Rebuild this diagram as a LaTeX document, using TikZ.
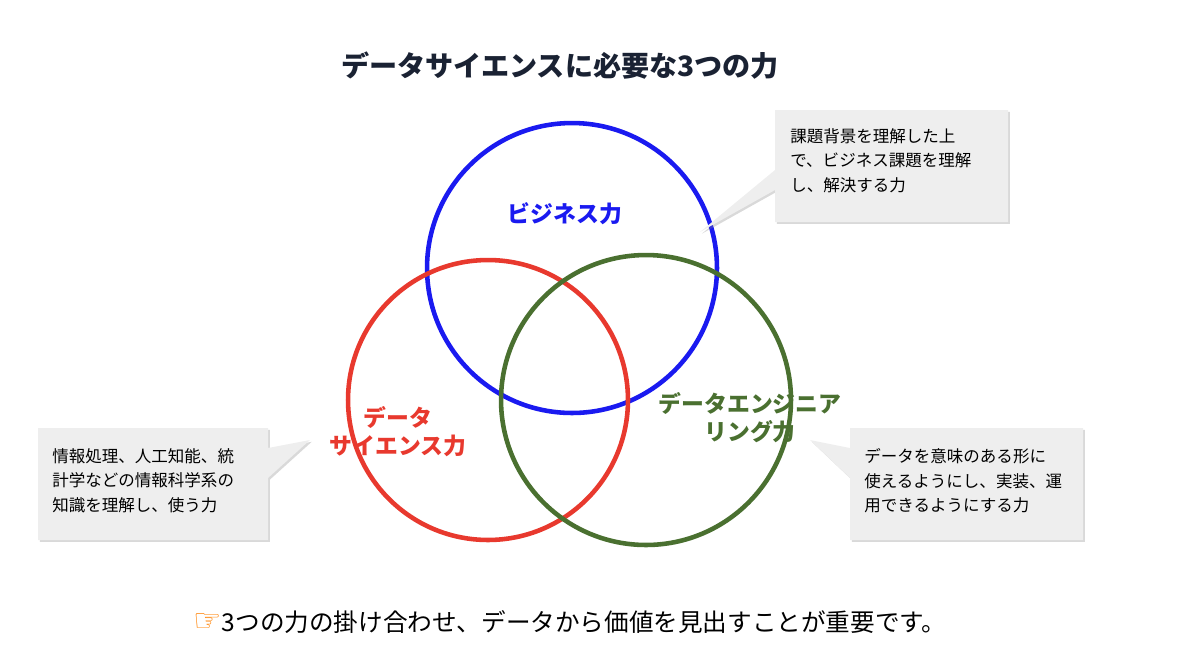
\documentclass[tikz,border=0pt]{standalone}
\usepackage{fontspec}
\setmainfont{Noto Sans CJK JP}
\newfontfamily\symfont{DejaVu Sans}
\usetikzlibrary{positioning,shadows}
\definecolor{navy}{HTML}{1A2233}
\definecolor{bizblue}{HTML}{1A1AF0}
\definecolor{scired}{HTML}{E8392E}
\definecolor{enggreen}{HTML}{4A7030}
\definecolor{boxgray}{HTML}{EEEEEE}
\tikzset{
  ring/.style={line width=2.6pt},
  tag/.style={font=\bfseries\fontsize{13}{16}\selectfont, align=center},
  note/.style={font=\fontsize{9.4}{14}\selectfont, align=left, inner sep=0pt},
  bubble/.style={fill=boxgray, drop shadow={shadow xshift=1pt,shadow yshift=-1pt,opacity=.3}},
}
\begin{document}
\begin{tikzpicture}[x=0.02cm,y=-0.02cm]
  \useasboundingbox (0,0) rectangle (1200,647);

  \node[font=\bfseries\fontsize{16}{19}\selectfont, text=navy] (title) at (560,66) {データサイエンスに必要な3つの力};

  % circles
  \draw[ring, bizblue] (572,268) circle[radius=2.9cm];
  \draw[ring, scired] (488,400) circle[radius=2.8cm];
  \draw[ring, enggreen] (646,400) circle[radius=2.9cm];

  \node[tag, text=bizblue] (biz) at (565,214) {ビジネス力};
  \node[tag, text=scired] (sci) at (398,432) {データ\\サイエンス力};
  \node[tag, text=enggreen] (eng) at (750,418) {データエンジニア\\リング力};

  % callouts
  \fill[bubble]
    (775,110) -- (1008,110) -- (1008,222) -- (775,222) -- (775,190) -- (700,232) -- (775,170) -- cycle;
  \node[note, anchor=north west] (nbiz) at (790,128) {課題背景を理解した上\\で、ビジネス課題を理解\\し、解決する力};

  \fill[bubble]
    (38,428) -- (268,428) -- (268,448) -- (310,440) -- (268,478) -- (268,540) -- (38,540) -- cycle;
  \node[note, anchor=north west] (nsci) at (52,448) {情報処理、人工知能、統\\計学などの情報科学系の\\知識を理解し、使う力};

  \fill[bubble]
    (850,428) -- (1083,428) -- (1083,540) -- (850,540) -- (850,478) -- (810,440) -- (850,448) -- cycle;
  \node[note, anchor=north west] (neng) at (864,448) {データを意味のある形に\\使えるようにし、実装、運\\用できるようにする力};

  \node[font=\fontsize{14}{17}\selectfont] (bottom) at (570,622)
    {{\symfont\fontsize{18}{18}\selectfont\color{orange}☞}3つの力の掛け合わせ、データから価値を見出すことが重要です。};
\end{tikzpicture}
\end{document}
